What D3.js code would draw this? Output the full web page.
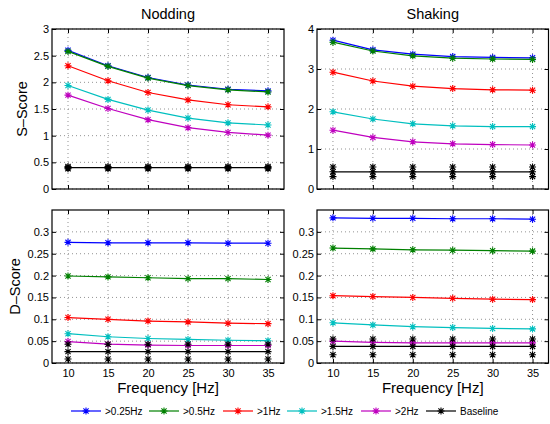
<!DOCTYPE html>
<html>
<head>
<meta charset="utf-8">
<title>S-Score / D-Score</title>
<script src="https://d3js.org/d3.v7.min.js"></script>
<style>
  body { margin: 0; background: #fff; }
  text { font-family: "Liberation Sans", Arial, sans-serif; fill: #000; }
</style>
</head>
<body>
<div id="vis"></div>
<script>
// values
var freqs = [10, 15, 20, 25, 30, 35];
var seriesNames = [">0.25Hz", ">0.5Hz", ">1Hz", ">1.5Hz", ">2Hz", "Baseline"];
var colors = ["#0000ff", "#008000", "#ff0000", "#00bfbf", "#bf00bf", "#000000"];

var noddingS = [
  [2.60, 2.31, 2.09, 1.95, 1.87, 1.84],
  [2.58, 2.30, 2.08, 1.94, 1.86, 1.82],
  [2.31, 2.03, 1.81, 1.67, 1.58, 1.54],
  [1.94, 1.68, 1.48, 1.33, 1.24, 1.20],
  [1.76, 1.51, 1.30, 1.15, 1.06, 1.01]
];
var noddingSBase = [0.40, 0.40, 0.40, 0.40, 0.40, 0.40];
var noddingSBaseHi = [0.42, 0.42, 0.42, 0.42, 0.42, 0.42];
var noddingSBaseLo = [0.38, 0.38, 0.38, 0.38, 0.38, 0.38];

var shakingS = [
  [3.72, 3.48, 3.37, 3.31, 3.29, 3.28],
  [3.67, 3.45, 3.33, 3.27, 3.25, 3.24],
  [2.92, 2.70, 2.57, 2.51, 2.48, 2.47],
  [1.93, 1.75, 1.63, 1.58, 1.56, 1.56],
  [1.47, 1.29, 1.18, 1.13, 1.11, 1.10]
];
var shakingSBase = [0.43, 0.43, 0.43, 0.43, 0.43, 0.43];
var shakingSBaseHi = [0.55, 0.55, 0.55, 0.55, 0.55, 0.55];
var shakingSBaseLo = [0.31, 0.31, 0.31, 0.31, 0.31, 0.31];

var noddingD = [
  [0.276, 0.275, 0.275, 0.275, 0.274, 0.274],
  [0.199, 0.197, 0.195, 0.193, 0.193, 0.191],
  [0.104, 0.100, 0.096, 0.094, 0.091, 0.090],
  [0.067, 0.060, 0.056, 0.054, 0.052, 0.051],
  [0.049, 0.043, 0.041, 0.040, 0.040, 0.040]
];
var noddingDBase = [0.026, 0.026, 0.026, 0.026, 0.026, 0.026];
var noddingDBaseHi = [0.043, 0.043, 0.043, 0.043, 0.043, 0.043];
var noddingDBaseLo = [0.009, 0.009, 0.009, 0.009, 0.009, 0.009];

var shakingD = [
  [0.332, 0.331, 0.331, 0.330, 0.330, 0.329],
  [0.263, 0.261, 0.259, 0.258, 0.257, 0.256],
  [0.154, 0.152, 0.150, 0.148, 0.146, 0.145],
  [0.092, 0.087, 0.083, 0.081, 0.079, 0.078],
  [0.050, 0.047, 0.046, 0.046, 0.046, 0.046]
];
var shakingDBase = [0.038, 0.038, 0.038, 0.038, 0.038, 0.038];
var shakingDBaseHi = [0.055, 0.055, 0.055, 0.055, 0.055, 0.055];
var shakingDBaseLo = [0.019, 0.019, 0.019, 0.019, 0.019, 0.019];

var sTicksLeft = [0, 0.5, 1, 1.5, 2, 2.5, 3];
var sTicksRight = [0, 1, 2, 3, 4];
var dTicks = [0, 0.05, 0.1, 0.15, 0.2, 0.25, 0.3];

var svg = d3.select("#vis").append("svg")
  .attr("width", 550)
  .attr("height", 424);

function star(g, x, y, color) {
  var r = 3.5, d = 2.6;
  g.append("path")
    .attr("d", "M" + (x - r) + "," + y + "h" + (2 * r) +
               "M" + x + "," + (y - r) + "v" + (2 * r) +
               "M" + (x - d) + "," + (y - d) + "l" + (2 * d) + "," + (2 * d) +
               "M" + (x - d) + "," + (y + d) + "l" + (2 * d) + "," + (-2 * d))
    .attr("stroke", color)
    .attr("stroke-width", 1.1)
    .attr("fill", "none");
}

function panel(opt) {
  var x = d3.scaleLinear().domain([8, 37]).range([opt.x0, opt.x1]);
  var y = d3.scaleLinear().domain([0, opt.ymax]).range([opt.y1, opt.y0]);
  var g = svg.append("g");

  // grid
  g.selectAll(".gx").data(freqs).enter().append("line")
    .attr("x1", function(d) { return x(d); }).attr("x2", function(d) { return x(d); })
    .attr("y1", opt.y0).attr("y2", opt.y1)
    .attr("stroke", "#777").attr("stroke-width", 0.8).attr("stroke-dasharray", "1,3");
  g.selectAll(".gy").data(opt.ticks).enter().append("line")
    .attr("x1", opt.x0).attr("x2", opt.x1)
    .attr("y1", function(d) { return y(d); }).attr("y2", function(d) { return y(d); })
    .attr("stroke", "#777").attr("stroke-width", 0.8).attr("stroke-dasharray", "1,3");

  var fmt = function(d) { return String(+d.toFixed(2)); };

  var ax = g.append("g").attr("transform", "translate(0," + opt.y1 + ")")
    .call(d3.axisBottom(x).tickValues(freqs).tickSize(-4).tickPadding(6)
      .tickFormat(opt.xlabels ? d3.format("d") : function() { return ""; }));
  var ax2 = g.append("g").attr("transform", "translate(0," + opt.y0 + ")")
    .call(d3.axisTop(x).tickValues(freqs).tickSize(-4).tickFormat(""));
  var ay = g.append("g").attr("transform", "translate(" + opt.x0 + ",0)")
    .call(d3.axisLeft(y).tickValues(opt.ticks).tickSize(-4).tickPadding(3).tickFormat(fmt));
  var ay2 = g.append("g").attr("transform", "translate(" + opt.x1 + ",0)")
    .call(d3.axisRight(y).tickValues(opt.ticks).tickSize(-4).tickFormat(""));
  [ax, ax2, ay, ay2].forEach(function(a) {
    a.select(".domain").remove();
    a.selectAll("text").style("font-size", "11px").style("font-family", "Liberation Sans, Arial, sans-serif");
  });

  g.append("rect")
    .attr("x", opt.x0).attr("y", opt.y0)
    .attr("width", opt.x1 - opt.x0).attr("height", opt.y1 - opt.y0)
    .attr("fill", "none").attr("stroke", "#000").attr("stroke-width", 1.2);

  var line = d3.line()
    .x(function(d, i) { return x(freqs[i]); })
    .y(function(d) { return y(d); });

  opt.series.forEach(function(s, k) {
    g.append("path").attr("d", line(s))
      .attr("fill", "none").attr("stroke", colors[k]).attr("stroke-width", 1.2);
    s.forEach(function(v, i) { star(g, x(freqs[i]), y(v), colors[k]); });
  });

  g.append("path").attr("d", line(opt.base))
    .attr("fill", "none").attr("stroke", "#000").attr("stroke-width", 1.2);
  [opt.baseHi, opt.base, opt.baseLo].forEach(function(row) {
    row.forEach(function(v, i) { star(g, x(freqs[i]), y(v), "#000"); });
  });

  if (opt.title) {
    svg.append("text").attr("x", (opt.x0 + opt.x1) / 2).attr("y", 19)
      .attr("text-anchor", "middle").style("font-size", "14.5px").text(opt.title);
  }
  if (opt.xlabels) {
    svg.append("text").attr("x", (opt.x0 + opt.x1) / 2).attr("y", 393)
      .attr("text-anchor", "middle").style("font-size", "15px").text("Frequency [Hz]");
  }
  if (opt.ylabel) {
    svg.append("text")
      .attr("transform", "translate(" + opt.ylx + "," + (opt.y0 + opt.y1) / 2 + ") rotate(-90)")
      .attr("text-anchor", "middle").attr("dy", "0.35em")
      .style("font-size", "14.5px").text(opt.ylabel);
  }
}

panel({ x0: 52, x1: 284, y0: 29, y1: 189, ymax: 3, ticks: sTicksLeft,
        series: noddingS, base: noddingSBase, baseHi: noddingSBaseHi, baseLo: noddingSBaseLo,
        title: "Nodding", ylabel: "S\u2013Score", ylx: 22 });
panel({ x0: 317, x1: 548.5, y0: 29, y1: 189, ymax: 4, ticks: sTicksRight,
        series: shakingS, base: shakingSBase, baseHi: shakingSBaseHi, baseLo: shakingSBaseLo,
        title: "Shaking" });
panel({ x0: 52, x1: 284, y0: 210, y1: 363, ymax: 0.35, ticks: dTicks,
        series: noddingD, base: noddingDBase, baseHi: noddingDBaseHi, baseLo: noddingDBaseLo,
        xlabels: true, ylabel: "D\u2013Score", ylx: 15 });
panel({ x0: 317, x1: 548.5, y0: 210, y1: 363, ymax: 0.35, ticks: dTicks,
        series: shakingD, base: shakingDBase, baseHi: shakingDBaseHi, baseLo: shakingDBaseLo,
        xlabels: true });

// legend
var legX = [71, 149, 223, 287, 361, 426];
var leg = svg.append("g");
seriesNames.forEach(function(name, k) {
  var lx = legX[k], ly = 411;
  leg.append("line").attr("x1", lx).attr("x2", lx + 30).attr("y1", ly).attr("y2", ly)
    .attr("stroke", colors[k]).attr("stroke-width", 1.2);
  star(leg, lx + 15, ly, colors[k]);
  leg.append("text").attr("x", lx + 34).attr("y", ly).attr("dy", "0.35em")
    .style("font-size", "10px").text(name);
});
</script>
</body>
</html>
